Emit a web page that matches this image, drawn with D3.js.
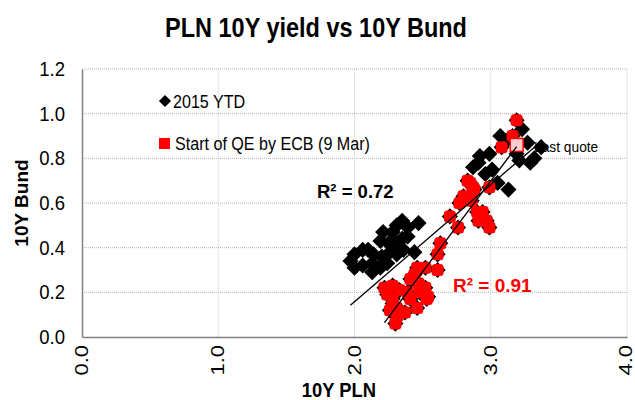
<!DOCTYPE html>
<html>
<head>
<meta charset="utf-8">
<script src="https://cdn.jsdelivr.net/npm/d3@7/dist/d3.min.js"></script>
<style>
  body { margin: 0; background: #fff; }
  text { font-family: "Liberation Sans", Arial, sans-serif; fill: #000; }
</style>
</head>
<body>
<div id="chart"></div>
<script>
// [10Y PLN, 10Y Bund] pairs
let beforeQE = [
    [2.47,0.51],[2.39,0.49],[2.35,0.52],[2.31,0.50],[2.28,0.47],[2.21,0.47],[2.19,0.43],
    [2.25,0.42],[2.31,0.42],[2.35,0.44],[2.39,0.45],[2.44,0.38],[2.26,0.38],[2.20,0.36],
    [2.14,0.37],[2.10,0.39],[2.06,0.39],[2.00,0.37],[1.97,0.34],[2.00,0.31],[2.06,0.32],
    [2.13,0.29],[2.13,0.33],[2.19,0.31],[2.24,0.33],[2.31,0.37],[2.36,0.39]
];
let lateBlack = [
    [3.07,0.90],[3.12,0.88],[3.23,0.93],[3.27,0.87],[3.21,0.79],[3.29,0.78],[3.32,0.80],
    [3.37,0.85],[2.91,0.78],[2.87,0.76],[2.99,0.82],[3.01,0.75],[2.96,0.73],[3.05,0.69],
    [3.13,0.66],[3.19,0.82],[2.92,0.81]
];
let afterQE = [
    [3.19,0.97],[3.16,0.90],[3.08,0.85],[2.87,0.67],[2.85,0.69],[2.83,0.70],[2.88,0.66],
    [2.80,0.63],[2.77,0.60],[2.86,0.61],[2.99,0.67],[2.94,0.56],[2.97,0.52],[2.90,0.56],
    [2.99,0.49],[2.91,0.52],[2.70,0.54],[2.76,0.49],[2.63,0.42],[2.61,0.37],[2.61,0.30],
    [2.52,0.31],[2.52,0.22],[2.46,0.31],[2.44,0.28],[2.41,0.26],[2.47,0.24],[2.48,0.20],
    [2.53,0.17],[2.54,0.18],[2.46,0.13],[2.41,0.17],[2.39,0.20],[2.33,0.21],[2.28,0.23],
    [2.22,0.22],[2.24,0.19],[2.28,0.17],[2.31,0.13],[2.35,0.11],[2.31,0.09],[2.30,0.06],
    [2.37,0.11],[2.26,0.12],[2.28,0.15]
];
let lastQuote = [3.19, 0.86];

let xTicks = [0, 1, 2, 3, 4];
let yTicks = [0, 0.2, 0.4, 0.6, 0.8, 1.0, 1.2];
let seriesNames = ["2015 YTD", "Start of QE by ECB (9 Mar)"];
let r2Labels = ["R\u00b2 = 0.72", "R\u00b2 = 0.91"];

let allPoints = beforeQE.concat(lateBlack, afterQE);

// least squares line over the x range of the points (like an excel trendline)
let fitLine = (pts) => {
    let mx = d3.mean(pts, d => d[0]), my = d3.mean(pts, d => d[1]);
    let sxy = d3.sum(pts, d => (d[0] - mx) * (d[1] - my));
    let sxx = d3.sum(pts, d => (d[0] - mx) * (d[0] - mx));
    let b = sxy / sxx, a = my - b * mx;
    let ext = d3.extent(pts, d => d[0]);
    return ext.map(x => [x, a + b * x]);
};

let width = 635, height = 400;
let margin = {top: 69, right: 8, bottom: 63, left: 82};

let x = d3.scaleLinear().domain([0, 4]).range([margin.left, width - margin.right]);
let y = d3.scaleLinear().domain([0, 1.2]).range([height - margin.bottom, margin.top]);

let svg = d3.select('#chart').append('svg')
    .attr('width', width)
    .attr('height', height);

// text helper, sx squeezes the glyphs sideways
let label = (str, px, py, size, opts) => {
    opts = opts || {};
    let t = svg.append('text')
        .attr('transform', `translate(${px},${py})` + (opts.rotate ? ` scale(${opts.sx || 1},1) rotate(-90)` : ` scale(${opts.sx || 1},1)`))
        .attr('font-size', size)
        .attr('font-weight', opts.bold ? 'bold' : 'normal')
        .attr('text-anchor', opts.anchor || 'start')
        .text(str);
    if (opts.dy) t.attr('dy', opts.dy);
    if (opts.fill) t.style('fill', opts.fill);
    return t;
};

// gridlines
svg.append('g')
    .selectAll('line.gy')
    .data(yTicks.slice(1))
    .enter().append('line')
    .attr('x1', x(0)).attr('x2', x(4))
    .attr('y1', d => y(d)).attr('y2', d => y(d))
    .attr('stroke', '#b4b4b4').attr('stroke-dasharray', '1,1');

svg.append('g')
    .selectAll('line.gx')
    .data(xTicks.slice(1))
    .enter().append('line')
    .attr('y1', y(0)).attr('y2', y(1.2))
    .attr('x1', d => x(d)).attr('x2', d => x(d))
    .attr('stroke', '#c8c8c8').attr('stroke-dasharray', '1,1');

// axes, no tick marks
let xAxis = d3.axisBottom(x).tickValues(xTicks).tickSize(0).tickFormat('');
let yAxis = d3.axisLeft(y).tickValues(yTicks).tickSize(0).tickFormat('');
svg.append('g').attr('transform', `translate(0,${y(0)})`).call(xAxis)
    .select('.domain').attr('stroke', '#808080').attr('stroke-width', 1.5);
svg.append('g').attr('transform', `translate(${x(0)},0)`).call(yAxis)
    .select('.domain').attr('stroke', '#808080').attr('stroke-width', 1.5);

yTicks.forEach(v => label(d3.format('.1f')(v), 65, y(v), 19.5, {anchor: 'end', dy: '0.35em', sx: 0.95}));
xTicks.forEach(v => label(d3.format('.1f')(v), Math.min(x(v), 626), y(0) + 8, 22, {anchor: 'end', dy: '0.35em', rotate: true, sx: 0.8}));

// titles
label('PLN 10Y yield vs 10Y Bund', 316, 37, 27, {bold: true, anchor: 'middle', sx: 0.87});
label('10Y PLN', 339, 397, 20, {bold: true, anchor: 'middle', sx: 0.92});
label('10Y Bund', 21, y(0.6), 19, {bold: true, anchor: 'middle', dy: '0.35em', rotate: true, sx: 1});

// last quote label goes under the markers
label('Last quote', 534, 152, 14.5, {sx: 0.95});

let diamond = d3.symbol().type(d3.symbolDiamond2).size(165);

// 2015 YTD
svg.append('g')
    .selectAll('path')
    .data(allPoints)
    .enter().append('path')
    .attr('d', diamond)
    .attr('transform', d => `translate(${x(d[0])},${y(d[1])})`)
    .attr('fill', '#000');

// since QE
svg.append('g')
    .selectAll('rect')
    .data(afterQE)
    .enter().append('rect')
    .attr('x', d => x(d[0]) - 6)
    .attr('y', d => y(d[1]) - 6)
    .attr('width', 12).attr('height', 12).attr('rx', 3.5)
    .attr('fill', '#ff0000');

// last quote
svg.append('rect')
    .attr('x', x(lastQuote[0]) - 6.5)
    .attr('y', y(lastQuote[1]) - 6.5)
    .attr('width', 13).attr('height', 13)
    .attr('fill', '#ffcccc').attr('stroke', '#ff0000').attr('stroke-width', 1.5);

// trendlines
let line = d3.line().x(d => x(d[0])).y(d => y(d[1]));
[allPoints, afterQE].forEach(pts => {
    svg.append('path')
        .attr('d', line(fitLine(pts)))
        .attr('fill', 'none')
        .attr('stroke', '#000')
        .attr('stroke-width', 1.3);
});

label(r2Labels[0], 317, 198, 18.5, {bold: true, sx: 1.0});
label(r2Labels[1], 453, 292, 19, {bold: true, fill: '#ff0000', sx: 1.0});

// legend
svg.append('path')
    .attr('d', d3.symbol().type(d3.symbolDiamond2).size(95))
    .attr('transform', 'translate(165,101)')
    .attr('fill', '#000');
label(seriesNames[0], 173, 108, 18.5, {sx: 0.87});
svg.append('rect')
    .attr('x', 159).attr('y', 138).attr('width', 11).attr('height', 11)
    .attr('fill', '#ff0000');
label(seriesNames[1], 175, 150, 18.5, {sx: 0.87});
</script>
</body>
</html>
